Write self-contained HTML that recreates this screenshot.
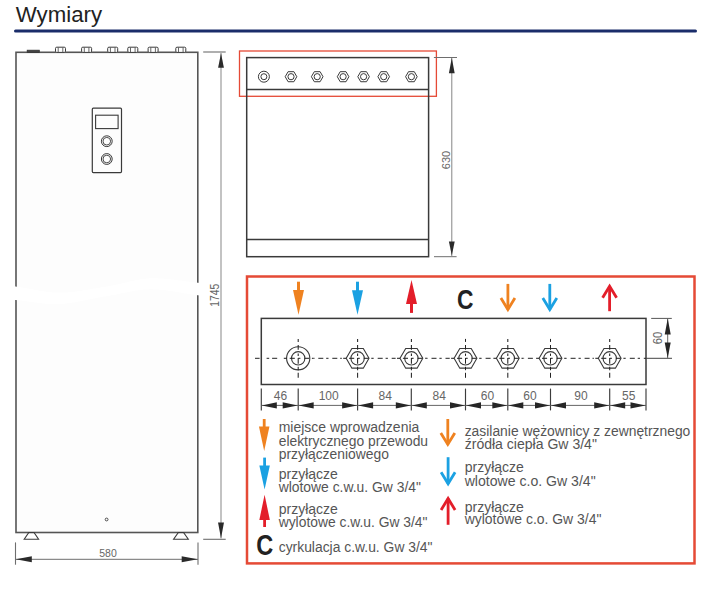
<!DOCTYPE html>
<html><head><meta charset="utf-8"><style>
html,body{margin:0;padding:0;background:#fff;width:717px;height:592px;overflow:hidden}
svg{display:block;font-family:"Liberation Sans",sans-serif}
</style></head><body>
<svg width="717" height="592" viewBox="0 0 717 592">
<text x="15.8" y="21.9" font-size="22.5" fill="#222" text-anchor="start" font-weight="normal" textLength="86.3" lengthAdjust="spacingAndGlyphs" >Wymiary</text>
<line x1="15.5" y1="31" x2="695.5" y2="31" stroke="#1a2d6a" stroke-width="3" stroke-linecap="round"/>
<rect x="16" y="52.3" width="181.8" height="480.2" stroke="#555" stroke-width="1.6" fill="#fdfdfd" />
<path d="M 8.0 286.0 L 10.5 286.2 L 13.1 286.3 L 15.6 286.5 L 18.1 286.9 L 20.7 287.3 L 23.2 287.7 L 25.7 288.1 L 28.3 288.6 L 30.8 289.1 L 33.3 289.5 L 35.8 290.0 L 38.4 290.5 L 40.9 290.9 L 43.4 291.3 L 46.0 291.7 L 48.5 292.0 L 51.0 292.2 L 53.6 292.4 L 56.1 292.6 L 58.6 292.6 L 61.2 292.6 L 63.7 292.5 L 66.2 292.4 L 68.8 292.2 L 71.3 292.0 L 73.8 291.7 L 76.4 291.4 L 78.9 291.1 L 81.4 290.7 L 83.9 290.3 L 86.5 289.9 L 89.0 289.5 L 91.5 289.1 L 94.1 288.6 L 96.6 288.2 L 99.1 287.8 L 101.7 287.3 L 104.2 286.9 L 106.7 286.5 L 109.3 286.1 L 111.8 285.6 L 114.3 285.1 L 116.9 284.6 L 119.4 284.0 L 121.9 283.4 L 124.5 282.8 L 127.0 282.2 L 129.5 281.6 L 132.1 281.0 L 134.6 280.4 L 137.1 279.9 L 139.6 279.5 L 142.2 279.1 L 144.7 278.7 L 147.2 278.5 L 149.8 278.3 L 152.3 278.2 L 154.8 278.2 L 157.4 278.3 L 159.9 278.4 L 162.4 278.5 L 165.0 278.7 L 167.5 279.0 L 170.0 279.2 L 172.6 279.5 L 175.1 279.8 L 177.6 280.2 L 180.2 280.5 L 182.7 280.8 L 185.2 281.2 L 187.7 281.5 L 190.3 281.8 L 192.8 282.1 L 195.3 282.4 L 197.9 282.7 L 200.4 282.9 L 202.9 283.2 L 205.5 283.5 L 208.0 283.8 L 208.0 296.6 L 205.5 296.3 L 202.9 295.9 L 200.4 295.6 L 197.9 295.3 L 195.3 294.9 L 192.8 294.6 L 190.3 294.2 L 187.7 293.8 L 185.2 293.4 L 182.7 292.9 L 180.2 292.5 L 177.6 292.1 L 175.1 291.7 L 172.6 291.3 L 170.0 290.9 L 167.5 290.5 L 165.0 290.2 L 162.4 289.9 L 159.9 289.7 L 157.4 289.5 L 154.8 289.4 L 152.3 289.3 L 149.8 289.3 L 147.2 289.4 L 144.7 289.5 L 142.2 289.8 L 139.6 290.1 L 137.1 290.4 L 134.6 290.8 L 132.1 291.3 L 129.5 291.7 L 127.0 292.2 L 124.5 292.8 L 121.9 293.3 L 119.4 293.8 L 116.9 294.4 L 114.3 294.9 L 111.8 295.3 L 109.3 295.8 L 106.7 296.2 L 104.2 296.6 L 101.7 297.1 L 99.1 297.6 L 96.6 298.1 L 94.1 298.6 L 91.5 299.1 L 89.0 299.6 L 86.5 300.1 L 83.9 300.6 L 81.4 301.1 L 78.9 301.6 L 76.4 302.0 L 73.8 302.4 L 71.3 302.8 L 68.8 303.1 L 66.2 303.4 L 63.7 303.7 L 61.2 303.9 L 58.6 304.0 L 56.1 304.1 L 53.6 304.1 L 51.0 304.0 L 48.5 303.9 L 46.0 303.7 L 43.4 303.4 L 40.9 303.2 L 38.4 302.9 L 35.8 302.5 L 33.3 302.2 L 30.8 301.9 L 28.3 301.5 L 25.7 301.2 L 23.2 300.9 L 20.7 300.6 L 18.1 300.3 L 15.6 300.1 L 13.1 299.9 L 10.5 299.7 L 8.0 299.6 Z" fill="#ffffff"/>
<rect x="27.2" y="50.2" width="12.1" height="2.1" stroke="#333" stroke-width="0.8" fill="#444" />
<rect x="55.5" y="47.2" width="10" height="5.2" rx="1.2" fill="#fff" stroke="#3a3a3a" stroke-width="1"/>
<line x1="58.2" y1="47.5" x2="58.2" y2="52.3" stroke="#555" stroke-width="0.9" />
<line x1="62.8" y1="47.5" x2="62.8" y2="52.3" stroke="#555" stroke-width="0.9" />
<rect x="81.6" y="47.2" width="10" height="5.2" rx="1.2" fill="#fff" stroke="#3a3a3a" stroke-width="1"/>
<line x1="84.3" y1="47.5" x2="84.3" y2="52.3" stroke="#555" stroke-width="0.9" />
<line x1="88.9" y1="47.5" x2="88.9" y2="52.3" stroke="#555" stroke-width="0.9" />
<rect x="107.7" y="47.2" width="10" height="5.2" rx="1.2" fill="#fff" stroke="#3a3a3a" stroke-width="1"/>
<line x1="110.4" y1="47.5" x2="110.4" y2="52.3" stroke="#555" stroke-width="0.9" />
<line x1="115" y1="47.5" x2="115" y2="52.3" stroke="#555" stroke-width="0.9" />
<rect x="127.8" y="47.2" width="10" height="5.2" rx="1.2" fill="#fff" stroke="#3a3a3a" stroke-width="1"/>
<line x1="130.5" y1="47.5" x2="130.5" y2="52.3" stroke="#555" stroke-width="0.9" />
<line x1="135.1" y1="47.5" x2="135.1" y2="52.3" stroke="#555" stroke-width="0.9" />
<rect x="148.1" y="47.2" width="10" height="5.2" rx="1.2" fill="#fff" stroke="#3a3a3a" stroke-width="1"/>
<line x1="150.8" y1="47.5" x2="150.8" y2="52.3" stroke="#555" stroke-width="0.9" />
<line x1="155.4" y1="47.5" x2="155.4" y2="52.3" stroke="#555" stroke-width="0.9" />
<rect x="175.8" y="47.2" width="10" height="5.2" rx="1.2" fill="#fff" stroke="#3a3a3a" stroke-width="1"/>
<line x1="178.5" y1="47.5" x2="178.5" y2="52.3" stroke="#555" stroke-width="0.9" />
<line x1="183.1" y1="47.5" x2="183.1" y2="52.3" stroke="#555" stroke-width="0.9" />
<rect x="92.3" y="108.2" width="29.2" height="64.4" rx="1" fill="none" stroke="#3a3a3a" stroke-width="1.2"/>
<rect x="95.6" y="115.2" width="22.5" height="13.4" stroke="#3a3a3a" stroke-width="1.1" fill="none" />
<circle cx="106.8" cy="141.2" r="5.4" stroke="#3a3a3a" stroke-width="1.0" fill="none"/>
<circle cx="106.8" cy="141.2" r="3.8" stroke="#3a3a3a" stroke-width="0.9" fill="none"/>
<circle cx="106.8" cy="159" r="5.4" stroke="#3a3a3a" stroke-width="1.0" fill="none"/>
<circle cx="106.8" cy="159" r="3.8" stroke="#3a3a3a" stroke-width="0.9" fill="none"/>
<circle cx="106.6" cy="519.5" r="1.4" stroke="#3a3a3a" stroke-width="0.9" fill="none"/>
<polygon points="28.8,532.5 34,532.5 38.6,539.3 24.2,539.3" fill="none" stroke="#3a3a3a" stroke-width="1.1" />
<polygon points="178.35,532.5 183.55,532.5 188.3,539.3 173.6,539.3" fill="none" stroke="#3a3a3a" stroke-width="1.1" />
<line x1="15.5" y1="542.4" x2="15.5" y2="564.7" stroke="#6e6e6e" stroke-width="1.1" />
<line x1="198" y1="542.4" x2="198" y2="564.7" stroke="#6e6e6e" stroke-width="1.1" />
<line x1="15.5" y1="559.3" x2="198" y2="559.3" stroke="#6e6e6e" stroke-width="1.0" />
<polygon points="15.8,559.3 31.8,556.3 31.8,562.3" fill="#2a2a2a" stroke="none" stroke-width="0" />
<polygon points="197.7,559.3 181.7,562.3 181.7,556.3" fill="#2a2a2a" stroke="none" stroke-width="0" />
<text x="108" y="556.8" font-size="11.3" fill="#666666" text-anchor="middle" font-weight="normal" textLength="17.5" lengthAdjust="spacingAndGlyphs" >580</text>
<line x1="203.2" y1="52" x2="225.7" y2="52" stroke="#6e6e6e" stroke-width="1.1" />
<line x1="203.2" y1="539.3" x2="225.7" y2="539.3" stroke="#6e6e6e" stroke-width="1.1" />
<line x1="221" y1="53" x2="221" y2="538.5" stroke="#b4b4b4" stroke-width="1.6" />
<polygon points="221,53.2 223.9,67.8 218.1,67.8" fill="#2a2a2a" stroke="none" stroke-width="0" />
<polygon points="221,538.3 218,522.6 224,522.6" fill="#2a2a2a" stroke="none" stroke-width="0" />
<text x="219" y="295.2" font-size="12" fill="#666666" text-anchor="middle" font-weight="normal" textLength="23" lengthAdjust="spacingAndGlyphs" transform="rotate(-90 219 295.2)" >1745</text>
<rect x="239.5" y="51" width="196.9" height="45.3" stroke="#e54a36" stroke-width="1.3" fill="none" />
<rect x="246.7" y="57.6" width="181.9" height="199.1" stroke="#3a3a3a" stroke-width="1.5" fill="none" />
<line x1="246.7" y1="89.4" x2="428.6" y2="89.4" stroke="#3a3a3a" stroke-width="1.5" />
<line x1="246.7" y1="239.4" x2="428.6" y2="239.4" stroke="#3a3a3a" stroke-width="1.5" />
<circle cx="263.9" cy="76.7" r="5.5" stroke="#3a3a3a" stroke-width="1.0" fill="none"/>
<circle cx="263.9" cy="76.7" r="3" stroke="#3a3a3a" stroke-width="1.0" fill="none"/>
<polygon points="296.8,76.7 293.9,81.72 288.1,81.72 285.2,76.7 288.1,71.68 293.9,71.68" fill="none" stroke="#3a3a3a" stroke-width="1.0" />
<circle cx="291" cy="76.7" r="3.1" stroke="#3a3a3a" stroke-width="1.0" fill="none"/>
<polygon points="323,76.7 320.1,81.72 314.3,81.72 311.4,76.7 314.3,71.68 320.1,71.68" fill="none" stroke="#3a3a3a" stroke-width="1.0" />
<circle cx="317.2" cy="76.7" r="3.1" stroke="#3a3a3a" stroke-width="1.0" fill="none"/>
<polygon points="348.9,76.7 346,81.72 340.2,81.72 337.3,76.7 340.2,71.68 346,71.68" fill="none" stroke="#3a3a3a" stroke-width="1.0" />
<circle cx="343.1" cy="76.7" r="3.1" stroke="#3a3a3a" stroke-width="1.0" fill="none"/>
<polygon points="369.4,76.7 366.5,81.72 360.7,81.72 357.8,76.7 360.7,71.68 366.5,71.68" fill="none" stroke="#3a3a3a" stroke-width="1.0" />
<circle cx="363.6" cy="76.7" r="3.1" stroke="#3a3a3a" stroke-width="1.0" fill="none"/>
<polygon points="389.5,76.7 386.6,81.72 380.8,81.72 377.9,76.7 380.8,71.68 386.6,71.68" fill="none" stroke="#3a3a3a" stroke-width="1.0" />
<circle cx="383.7" cy="76.7" r="3.1" stroke="#3a3a3a" stroke-width="1.0" fill="none"/>
<polygon points="417.2,76.7 414.3,81.72 408.5,81.72 405.6,76.7 408.5,71.68 414.3,71.68" fill="none" stroke="#3a3a3a" stroke-width="1.0" />
<circle cx="411.4" cy="76.7" r="3.1" stroke="#3a3a3a" stroke-width="1.0" fill="none"/>
<line x1="433.9" y1="57.5" x2="457" y2="57.5" stroke="#6e6e6e" stroke-width="1.0" />
<line x1="434" y1="256.7" x2="456.6" y2="256.7" stroke="#6e6e6e" stroke-width="1.0" />
<line x1="451.8" y1="58" x2="451.8" y2="256" stroke="#777" stroke-width="0.9" />
<polygon points="451.8,57.8 454.7,73.3 448.9,73.3" fill="#2a2a2a" stroke="none" stroke-width="0" />
<polygon points="451.8,255.5 448.9,241.5 454.7,241.5" fill="#2a2a2a" stroke="none" stroke-width="0" />
<text x="449.6" y="160" font-size="11.8" fill="#666666" text-anchor="middle" font-weight="normal" textLength="18.3" lengthAdjust="spacingAndGlyphs" transform="rotate(-90 449.6 160)" >630</text>
<rect x="247" y="276.5" width="447.5" height="286.9" stroke="#e54a36" stroke-width="2.5" fill="none" />
<rect x="297" y="281.7" width="3" height="9.4" fill="#ef8220"/>
<polygon points="293,290.1 304,290.1 298.5,314.7" fill="#ef8220" stroke="none" stroke-width="0" />
<rect x="356" y="281.7" width="3" height="9.5" fill="#1ba1e2"/>
<polygon points="352,290.2 363,290.2 357.5,314.7" fill="#1ba1e2" stroke="none" stroke-width="0" />
<rect x="410" y="303" width="3" height="9.9" fill="#e31e2a"/>
<polygon points="406,304 417,304 411.5,279.9" fill="#e31e2a" stroke="none" stroke-width="0" />
<text x="457" y="308.8" font-size="28" fill="#222" text-anchor="start" font-weight="bold" textLength="16.5" lengthAdjust="spacingAndGlyphs" >C</text>
<line x1="507.9" y1="283.9" x2="507.9" y2="309.5" stroke="#ef8220" stroke-width="2.8" />
<polyline points="500.9,298 507.9,309.5 514.9,298" fill="none" stroke="#ef8220" stroke-width="2.8" stroke-linejoin="miter"/>
<line x1="549.8" y1="283.9" x2="549.8" y2="309.5" stroke="#1ba1e2" stroke-width="2.8" />
<polyline points="542.8,298 549.8,309.5 556.8,298" fill="none" stroke="#1ba1e2" stroke-width="2.8" stroke-linejoin="miter"/>
<line x1="609.6" y1="286.2" x2="609.6" y2="311.2" stroke="#e31e2a" stroke-width="2.8" />
<polyline points="602.6,297.7 609.6,286.2 616.6,297.7" fill="none" stroke="#e31e2a" stroke-width="2.8" stroke-linejoin="miter"/>
<rect x="261.3" y="318.4" width="384.7" height="66.1" stroke="#3a3a3a" stroke-width="1.5" fill="none" />
<line x1="298.2" y1="358.3" x2="255" y2="358.3" stroke="#222" stroke-width="1.0" stroke-dasharray="0 3.4 5.1 2.9 2.6 3.6"/>
<line x1="298.2" y1="358.3" x2="357.6" y2="358.3" stroke="#222" stroke-width="1.0" stroke-dasharray="2.3 3.8 5 2.9"/>
<line x1="357.6" y1="358.3" x2="411.4" y2="358.3" stroke="#222" stroke-width="1.0" stroke-dasharray="2.3 3.8 5 2.9"/>
<line x1="411.4" y1="358.3" x2="465.5" y2="358.3" stroke="#222" stroke-width="1.0" stroke-dasharray="2.3 3.8 5 2.9"/>
<line x1="465.5" y1="358.3" x2="507.8" y2="358.3" stroke="#222" stroke-width="1.0" stroke-dasharray="2.3 3.8 5 2.9"/>
<line x1="507.8" y1="358.3" x2="550.5" y2="358.3" stroke="#222" stroke-width="1.0" stroke-dasharray="2.3 3.8 5 2.9"/>
<line x1="550.5" y1="358.3" x2="609.7" y2="358.3" stroke="#222" stroke-width="1.0" stroke-dasharray="2.3 3.8 5 2.9"/>
<line x1="609.7" y1="358.3" x2="646" y2="358.3" stroke="#222" stroke-width="1.0" stroke-dasharray="2.3 3.8 5 2.9"/>
<line x1="646" y1="358.3" x2="672" y2="358.3" stroke="#444" stroke-width="1.0" />
<rect x="282.4" y="356.8" width="31.6" height="3" fill="#fff"/>
<circle cx="298.2" cy="358.3" r="11.6" stroke="#3a3a3a" stroke-width="1.1" fill="#fff"/>
<circle cx="298.2" cy="358.3" r="6.7" stroke="#3a3a3a" stroke-width="1.1" fill="none"/>
<line x1="283.8" y1="358.3" x2="286.8" y2="358.3" stroke="#222" stroke-width="1.05" />
<line x1="289.7" y1="358.3" x2="294.8" y2="358.3" stroke="#222" stroke-width="1.05" />
<line x1="298.2" y1="358.3" x2="300.4" y2="358.3" stroke="#222" stroke-width="1.05" />
<line x1="304.3" y1="358.3" x2="309.2" y2="358.3" stroke="#222" stroke-width="1.05" />
<line x1="311.9" y1="358.3" x2="313.8" y2="358.3" stroke="#222" stroke-width="1.05" />
<line x1="298.2" y1="338.9" x2="298.2" y2="341.9" stroke="#222" stroke-width="1.05" />
<line x1="298.2" y1="345" x2="298.2" y2="349.7" stroke="#222" stroke-width="1.05" />
<line x1="298.2" y1="353.6" x2="298.2" y2="355.9" stroke="#222" stroke-width="1.05" />
<line x1="298.2" y1="358" x2="298.2" y2="363.7" stroke="#222" stroke-width="1.05" />
<line x1="298.2" y1="366.8" x2="298.2" y2="370.2" stroke="#222" stroke-width="1.05" />
<line x1="298.2" y1="372.8" x2="298.2" y2="377.8" stroke="#222" stroke-width="1.05" />
<rect x="341.8" y="356.8" width="31.6" height="3" fill="#fff"/>
<polygon points="369,358.3 363.3,368.17 351.9,368.17 346.2,358.3 351.9,348.43 363.3,348.43" fill="#fff" stroke="#3a3a3a" stroke-width="1.1"/>
<circle cx="357.6" cy="358.3" r="6.7" stroke="#3a3a3a" stroke-width="1.1" fill="none"/>
<line x1="343.2" y1="358.3" x2="346.2" y2="358.3" stroke="#222" stroke-width="1.05" />
<line x1="349.1" y1="358.3" x2="354.2" y2="358.3" stroke="#222" stroke-width="1.05" />
<line x1="357.6" y1="358.3" x2="359.8" y2="358.3" stroke="#222" stroke-width="1.05" />
<line x1="363.7" y1="358.3" x2="368.6" y2="358.3" stroke="#222" stroke-width="1.05" />
<line x1="371.3" y1="358.3" x2="373.2" y2="358.3" stroke="#222" stroke-width="1.05" />
<line x1="357.6" y1="338.9" x2="357.6" y2="341.9" stroke="#222" stroke-width="1.05" />
<line x1="357.6" y1="345" x2="357.6" y2="349.7" stroke="#222" stroke-width="1.05" />
<line x1="357.6" y1="353.6" x2="357.6" y2="355.9" stroke="#222" stroke-width="1.05" />
<line x1="357.6" y1="358" x2="357.6" y2="363.7" stroke="#222" stroke-width="1.05" />
<line x1="357.6" y1="366.8" x2="357.6" y2="370.2" stroke="#222" stroke-width="1.05" />
<line x1="357.6" y1="372.8" x2="357.6" y2="377.8" stroke="#222" stroke-width="1.05" />
<rect x="395.6" y="356.8" width="31.6" height="3" fill="#fff"/>
<polygon points="422.8,358.3 417.1,368.17 405.7,368.17 400,358.3 405.7,348.43 417.1,348.43" fill="#fff" stroke="#3a3a3a" stroke-width="1.1"/>
<circle cx="411.4" cy="358.3" r="6.7" stroke="#3a3a3a" stroke-width="1.1" fill="none"/>
<line x1="397" y1="358.3" x2="400" y2="358.3" stroke="#222" stroke-width="1.05" />
<line x1="402.9" y1="358.3" x2="408" y2="358.3" stroke="#222" stroke-width="1.05" />
<line x1="411.4" y1="358.3" x2="413.6" y2="358.3" stroke="#222" stroke-width="1.05" />
<line x1="417.5" y1="358.3" x2="422.4" y2="358.3" stroke="#222" stroke-width="1.05" />
<line x1="425.1" y1="358.3" x2="427" y2="358.3" stroke="#222" stroke-width="1.05" />
<line x1="411.4" y1="338.9" x2="411.4" y2="341.9" stroke="#222" stroke-width="1.05" />
<line x1="411.4" y1="345" x2="411.4" y2="349.7" stroke="#222" stroke-width="1.05" />
<line x1="411.4" y1="353.6" x2="411.4" y2="355.9" stroke="#222" stroke-width="1.05" />
<line x1="411.4" y1="358" x2="411.4" y2="363.7" stroke="#222" stroke-width="1.05" />
<line x1="411.4" y1="366.8" x2="411.4" y2="370.2" stroke="#222" stroke-width="1.05" />
<line x1="411.4" y1="372.8" x2="411.4" y2="377.8" stroke="#222" stroke-width="1.05" />
<rect x="449.7" y="356.8" width="31.6" height="3" fill="#fff"/>
<polygon points="476.9,358.3 471.2,368.17 459.8,368.17 454.1,358.3 459.8,348.43 471.2,348.43" fill="#fff" stroke="#3a3a3a" stroke-width="1.1"/>
<circle cx="465.5" cy="358.3" r="6.7" stroke="#3a3a3a" stroke-width="1.1" fill="none"/>
<line x1="451.1" y1="358.3" x2="454.1" y2="358.3" stroke="#222" stroke-width="1.05" />
<line x1="457" y1="358.3" x2="462.1" y2="358.3" stroke="#222" stroke-width="1.05" />
<line x1="465.5" y1="358.3" x2="467.7" y2="358.3" stroke="#222" stroke-width="1.05" />
<line x1="471.6" y1="358.3" x2="476.5" y2="358.3" stroke="#222" stroke-width="1.05" />
<line x1="479.2" y1="358.3" x2="481.1" y2="358.3" stroke="#222" stroke-width="1.05" />
<line x1="465.5" y1="338.9" x2="465.5" y2="341.9" stroke="#222" stroke-width="1.05" />
<line x1="465.5" y1="345" x2="465.5" y2="349.7" stroke="#222" stroke-width="1.05" />
<line x1="465.5" y1="353.6" x2="465.5" y2="355.9" stroke="#222" stroke-width="1.05" />
<line x1="465.5" y1="358" x2="465.5" y2="363.7" stroke="#222" stroke-width="1.05" />
<line x1="465.5" y1="366.8" x2="465.5" y2="370.2" stroke="#222" stroke-width="1.05" />
<line x1="465.5" y1="372.8" x2="465.5" y2="377.8" stroke="#222" stroke-width="1.05" />
<rect x="492" y="356.8" width="31.6" height="3" fill="#fff"/>
<polygon points="519.2,358.3 513.5,368.17 502.1,368.17 496.4,358.3 502.1,348.43 513.5,348.43" fill="#fff" stroke="#3a3a3a" stroke-width="1.1"/>
<circle cx="507.8" cy="358.3" r="6.7" stroke="#3a3a3a" stroke-width="1.1" fill="none"/>
<line x1="493.4" y1="358.3" x2="496.4" y2="358.3" stroke="#222" stroke-width="1.05" />
<line x1="499.3" y1="358.3" x2="504.4" y2="358.3" stroke="#222" stroke-width="1.05" />
<line x1="507.8" y1="358.3" x2="510" y2="358.3" stroke="#222" stroke-width="1.05" />
<line x1="513.9" y1="358.3" x2="518.8" y2="358.3" stroke="#222" stroke-width="1.05" />
<line x1="521.5" y1="358.3" x2="523.4" y2="358.3" stroke="#222" stroke-width="1.05" />
<line x1="507.8" y1="338.9" x2="507.8" y2="341.9" stroke="#222" stroke-width="1.05" />
<line x1="507.8" y1="345" x2="507.8" y2="349.7" stroke="#222" stroke-width="1.05" />
<line x1="507.8" y1="353.6" x2="507.8" y2="355.9" stroke="#222" stroke-width="1.05" />
<line x1="507.8" y1="358" x2="507.8" y2="363.7" stroke="#222" stroke-width="1.05" />
<line x1="507.8" y1="366.8" x2="507.8" y2="370.2" stroke="#222" stroke-width="1.05" />
<line x1="507.8" y1="372.8" x2="507.8" y2="377.8" stroke="#222" stroke-width="1.05" />
<rect x="534.7" y="356.8" width="31.6" height="3" fill="#fff"/>
<polygon points="561.9,358.3 556.2,368.17 544.8,368.17 539.1,358.3 544.8,348.43 556.2,348.43" fill="#fff" stroke="#3a3a3a" stroke-width="1.1"/>
<circle cx="550.5" cy="358.3" r="6.7" stroke="#3a3a3a" stroke-width="1.1" fill="none"/>
<line x1="536.1" y1="358.3" x2="539.1" y2="358.3" stroke="#222" stroke-width="1.05" />
<line x1="542" y1="358.3" x2="547.1" y2="358.3" stroke="#222" stroke-width="1.05" />
<line x1="550.5" y1="358.3" x2="552.7" y2="358.3" stroke="#222" stroke-width="1.05" />
<line x1="556.6" y1="358.3" x2="561.5" y2="358.3" stroke="#222" stroke-width="1.05" />
<line x1="564.2" y1="358.3" x2="566.1" y2="358.3" stroke="#222" stroke-width="1.05" />
<line x1="550.5" y1="338.9" x2="550.5" y2="341.9" stroke="#222" stroke-width="1.05" />
<line x1="550.5" y1="345" x2="550.5" y2="349.7" stroke="#222" stroke-width="1.05" />
<line x1="550.5" y1="353.6" x2="550.5" y2="355.9" stroke="#222" stroke-width="1.05" />
<line x1="550.5" y1="358" x2="550.5" y2="363.7" stroke="#222" stroke-width="1.05" />
<line x1="550.5" y1="366.8" x2="550.5" y2="370.2" stroke="#222" stroke-width="1.05" />
<line x1="550.5" y1="372.8" x2="550.5" y2="377.8" stroke="#222" stroke-width="1.05" />
<rect x="593.9" y="356.8" width="31.6" height="3" fill="#fff"/>
<polygon points="621.1,358.3 615.4,368.17 604,368.17 598.3,358.3 604,348.43 615.4,348.43" fill="#fff" stroke="#3a3a3a" stroke-width="1.1"/>
<circle cx="609.7" cy="358.3" r="6.7" stroke="#3a3a3a" stroke-width="1.1" fill="none"/>
<line x1="595.3" y1="358.3" x2="598.3" y2="358.3" stroke="#222" stroke-width="1.05" />
<line x1="601.2" y1="358.3" x2="606.3" y2="358.3" stroke="#222" stroke-width="1.05" />
<line x1="609.7" y1="358.3" x2="611.9" y2="358.3" stroke="#222" stroke-width="1.05" />
<line x1="615.8" y1="358.3" x2="620.7" y2="358.3" stroke="#222" stroke-width="1.05" />
<line x1="623.4" y1="358.3" x2="625.3" y2="358.3" stroke="#222" stroke-width="1.05" />
<line x1="609.7" y1="338.9" x2="609.7" y2="341.9" stroke="#222" stroke-width="1.05" />
<line x1="609.7" y1="345" x2="609.7" y2="349.7" stroke="#222" stroke-width="1.05" />
<line x1="609.7" y1="353.6" x2="609.7" y2="355.9" stroke="#222" stroke-width="1.05" />
<line x1="609.7" y1="358" x2="609.7" y2="363.7" stroke="#222" stroke-width="1.05" />
<line x1="609.7" y1="366.8" x2="609.7" y2="370.2" stroke="#222" stroke-width="1.05" />
<line x1="609.7" y1="372.8" x2="609.7" y2="377.8" stroke="#222" stroke-width="1.05" />
<line x1="261.3" y1="388.6" x2="261.3" y2="410.4" stroke="#3c3c3c" stroke-width="1.15" />
<line x1="298.2" y1="388.6" x2="298.2" y2="410.4" stroke="#3c3c3c" stroke-width="1.15" />
<line x1="357.6" y1="388.6" x2="357.6" y2="410.4" stroke="#3c3c3c" stroke-width="1.15" />
<line x1="411.3" y1="388.6" x2="411.3" y2="410.4" stroke="#3c3c3c" stroke-width="1.15" />
<line x1="465.5" y1="388.6" x2="465.5" y2="410.4" stroke="#3c3c3c" stroke-width="1.15" />
<line x1="507.8" y1="388.6" x2="507.8" y2="410.4" stroke="#3c3c3c" stroke-width="1.15" />
<line x1="550.5" y1="388.6" x2="550.5" y2="410.4" stroke="#3c3c3c" stroke-width="1.15" />
<line x1="609.7" y1="388.6" x2="609.7" y2="410.4" stroke="#3c3c3c" stroke-width="1.15" />
<line x1="646" y1="388.6" x2="646" y2="410.4" stroke="#3c3c3c" stroke-width="1.15" />
<line x1="261.3" y1="405.4" x2="646" y2="405.4" stroke="#555" stroke-width="0.9" />
<polygon points="261.8,405.4 276.8,402.2 276.8,408.6" fill="#262626" stroke="none" stroke-width="0" />
<polygon points="297.7,405.4 282.7,408.6 282.7,402.2" fill="#262626" stroke="none" stroke-width="0" />
<text x="280.55" y="400.2" font-size="12" fill="#666666" text-anchor="middle" font-weight="normal" >46</text>
<polygon points="298.7,405.4 313.7,402.2 313.7,408.6" fill="#262626" stroke="none" stroke-width="0" />
<polygon points="357.1,405.4 342.1,408.6 342.1,402.2" fill="#262626" stroke="none" stroke-width="0" />
<text x="328.7" y="400.2" font-size="12" fill="#666666" text-anchor="middle" font-weight="normal" >100</text>
<polygon points="358.1,405.4 373.1,402.2 373.1,408.6" fill="#262626" stroke="none" stroke-width="0" />
<polygon points="410.8,405.4 395.8,408.6 395.8,402.2" fill="#262626" stroke="none" stroke-width="0" />
<text x="385.25" y="400.2" font-size="12" fill="#666666" text-anchor="middle" font-weight="normal" >84</text>
<polygon points="411.8,405.4 426.8,402.2 426.8,408.6" fill="#262626" stroke="none" stroke-width="0" />
<polygon points="465,405.4 450,408.6 450,402.2" fill="#262626" stroke="none" stroke-width="0" />
<text x="439.2" y="400.2" font-size="12" fill="#666666" text-anchor="middle" font-weight="normal" >84</text>
<polygon points="466,405.4 481,402.2 481,408.6" fill="#262626" stroke="none" stroke-width="0" />
<polygon points="507.3,405.4 492.3,408.6 492.3,402.2" fill="#262626" stroke="none" stroke-width="0" />
<text x="487.45" y="400.2" font-size="12" fill="#666666" text-anchor="middle" font-weight="normal" >60</text>
<polygon points="508.3,405.4 523.3,402.2 523.3,408.6" fill="#262626" stroke="none" stroke-width="0" />
<polygon points="550,405.4 535,408.6 535,402.2" fill="#262626" stroke="none" stroke-width="0" />
<text x="529.95" y="400.2" font-size="12" fill="#666666" text-anchor="middle" font-weight="normal" >60</text>
<polygon points="551,405.4 566,402.2 566,408.6" fill="#262626" stroke="none" stroke-width="0" />
<polygon points="609.2,405.4 594.2,408.6 594.2,402.2" fill="#262626" stroke="none" stroke-width="0" />
<text x="580.9" y="400.2" font-size="12" fill="#666666" text-anchor="middle" font-weight="normal" >90</text>
<polygon points="610.2,405.4 625.2,402.2 625.2,408.6" fill="#262626" stroke="none" stroke-width="0" />
<polygon points="645.5,405.4 630.5,408.6 630.5,402.2" fill="#262626" stroke="none" stroke-width="0" />
<text x="628.65" y="400.2" font-size="12" fill="#666666" text-anchor="middle" font-weight="normal" >55</text>
<line x1="651.2" y1="318.4" x2="671.8" y2="318.4" stroke="#555" stroke-width="1.0" />
<line x1="667.7" y1="319" x2="667.7" y2="358" stroke="#555" stroke-width="0.9" />
<polygon points="667.7,318.6 670.7,334.4 664.7,334.4" fill="#262626" stroke="none" stroke-width="0" />
<polygon points="667.7,358 664.7,342.4 670.7,342.4" fill="#262626" stroke="none" stroke-width="0" />
<text x="662.2" y="338" font-size="13.5" fill="#666666" text-anchor="middle" font-weight="normal" textLength="12.6" lengthAdjust="spacingAndGlyphs" transform="rotate(-90 662.2 338)" >60</text>
<rect x="262.8" y="419" width="2.8" height="8.5" fill="#ef8220"/>
<polygon points="258.95,426.5 269.45,426.5 264.2,451.1" fill="#ef8220" stroke="none" stroke-width="0" />
<text x="278.7" y="432.1" font-size="14" fill="#555555" text-anchor="start" font-weight="normal" textLength="140.6" lengthAdjust="spacingAndGlyphs" >miejsce wprowadzenia</text>
<text x="278.7" y="445.5" font-size="14" fill="#555555" text-anchor="start" font-weight="normal" textLength="149.4" lengthAdjust="spacingAndGlyphs" >elektrycznego przewodu</text>
<text x="278.7" y="458.7" font-size="14" fill="#555555" text-anchor="start" font-weight="normal" textLength="110.2" lengthAdjust="spacingAndGlyphs" >przyłączeniowego</text>
<rect x="263.2" y="457.6" width="2.8" height="9" fill="#1ba1e2"/>
<polygon points="259.35,465.6 269.85,465.6 264.6,489.4" fill="#1ba1e2" stroke="none" stroke-width="0" />
<text x="278.7" y="479.1" font-size="14" fill="#555555" text-anchor="start" font-weight="normal" >przyłącze</text>
<text x="278.7" y="492.4" font-size="14" fill="#555555" text-anchor="start" font-weight="normal" textLength="142.2" lengthAdjust="spacingAndGlyphs" >wlotowe c.w.u. Gw 3/4"</text>
<rect x="263.2" y="519" width="2.8" height="8" fill="#e31e2a"/>
<polygon points="259.35,520 269.85,520 264.6,494.7" fill="#e31e2a" stroke="none" stroke-width="0" />
<text x="278.7" y="513.6" font-size="14" fill="#555555" text-anchor="start" font-weight="normal" >przyłącze</text>
<text x="278.7" y="526.8" font-size="14" fill="#555555" text-anchor="start" font-weight="normal" textLength="148.8" lengthAdjust="spacingAndGlyphs" >wylotowe c.w.u. Gw 3/4"</text>
<text x="256.3" y="555.3" font-size="29" fill="#222" text-anchor="start" font-weight="bold" textLength="17" lengthAdjust="spacingAndGlyphs" >C</text>
<text x="278.7" y="552" font-size="14" fill="#555555" text-anchor="start" font-weight="normal" textLength="153.8" lengthAdjust="spacingAndGlyphs" >cyrkulacja c.w.u. Gw 3/4"</text>
<line x1="447.8" y1="419" x2="447.8" y2="444.4" stroke="#ef8220" stroke-width="2.8" />
<polyline points="440.8,432.9 447.8,444.4 454.8,432.9" fill="none" stroke="#ef8220" stroke-width="2.8" stroke-linejoin="miter"/>
<text x="464.7" y="436.2" font-size="14" fill="#555555" text-anchor="start" font-weight="normal" textLength="225.6" lengthAdjust="spacingAndGlyphs" >zasilanie wężownicy z zewnętrznego</text>
<text x="464.7" y="448.8" font-size="14" fill="#555555" text-anchor="start" font-weight="normal" textLength="132.2" lengthAdjust="spacingAndGlyphs" >źródła ciepła Gw 3/4"</text>
<line x1="448.1" y1="457.2" x2="448.1" y2="483.8" stroke="#1ba1e2" stroke-width="2.8" />
<polyline points="441.1,472.3 448.1,483.8 455.1,472.3" fill="none" stroke="#1ba1e2" stroke-width="2.8" stroke-linejoin="miter"/>
<text x="464.7" y="472.2" font-size="14" fill="#555555" text-anchor="start" font-weight="normal" >przyłącze</text>
<text x="464.7" y="485.6" font-size="14" fill="#555555" text-anchor="start" font-weight="normal" textLength="131" lengthAdjust="spacingAndGlyphs" >wlotowe c.o. Gw 3/4"</text>
<line x1="448.1" y1="498.5" x2="448.1" y2="524.8" stroke="#e31e2a" stroke-width="2.8" />
<polyline points="441.1,510 448.1,498.5 455.1,510" fill="none" stroke="#e31e2a" stroke-width="2.8" stroke-linejoin="miter"/>
<text x="464.7" y="511.7" font-size="14" fill="#555555" text-anchor="start" font-weight="normal" >przyłącze</text>
<text x="464.7" y="523.8" font-size="14" fill="#555555" text-anchor="start" font-weight="normal" textLength="136.7" lengthAdjust="spacingAndGlyphs" >wylotowe c.o. Gw 3/4"</text>
</svg>
</body></html>
